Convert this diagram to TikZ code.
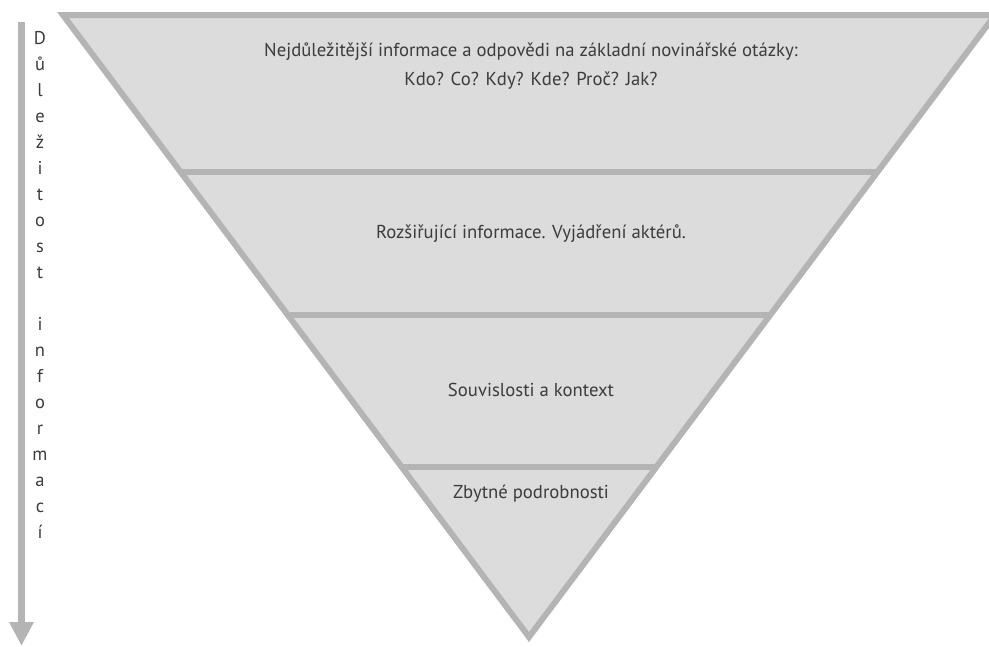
\documentclass[tikz,border=0pt]{standalone}
\usepackage{fontspec}
\setmainfont{PT Sans}
\usepackage{xcolor}
\usepackage{tikz}
\usetikzlibrary{arrows.meta, calc}
\definecolor{pyrfill}{RGB}{220,220,220}
\definecolor{pyrline}{RGB}{180,180,180}
\definecolor{pyrtext}{RGB}{60,60,60}
\tikzset{
  band/.style={draw=pyrline, line width=6pt, line join=miter},
  txt/.style={text=pyrtext, font=\fontsize{18.7}{29}\selectfont, align=center,
              inner sep=0pt, anchor=base},
  ltr/.style={text=pyrtext, font=\fontsize{18.5}{20}\selectfont, inner sep=0pt,
              anchor=base},
  arc/.style={draw=pyrline, line width=7pt, -{Triangle[width=23pt, length=24pt]}}
}

\begin{document}
\begin{tikzpicture}[x=1pt, y=-1pt]
  \useasboundingbox (0,0) rectangle (989,646);
  \clip (0,0) rectangle (989,646);
  % inverted pyramid
  \coordinate (tl) at (63,15);
  \coordinate (tr) at (995,15);
  \coordinate (ap) at (529,637);
  \fill[pyrfill] (tl) -- (tr) -- (ap) -- cycle;
  \foreach \t in {0.2524,0.4823,0.7267}
    \draw[draw=pyrline, line width=6pt] ($(tl)!\t!(ap)$) -- ($(tr)!\t!(ap)$);
  \draw[band] (tl) -- (tr) -- (ap) -- cycle;
  % levels
  \node[txt] (n1) at (531,85) {Nejdůležitější informace a odpovědi na základní novinářské otázky:\\Kdo? Co? Kdy? Kde? Proč? Jak?};
  \node[txt] (n2) at (531,238) {Rozšiřující informace. Vyjádření aktérů.};
  \node[txt] (n3) at (531,396) {Souvislosti a kontext};
  \node[txt] (n4) at (531,498) {Zbytné podrobnosti};
  % importance axis
  \coordinate (atop) at (21.5,22);
  \coordinate (abot) at (21.5,646);
  \draw[arc] (atop) -- (abot);
  \foreach \c/\k in {D/0,ů/1,l/2,e/3,ž/4,i/5,t/6,o/7,s/8,t/9,
                     i/11,n/12,f/13,o/14,r/15,m/16,a/17,c/18,í/19}
    \node[ltr] (l\k) at (40,44+\k*26) {\c};
\end{tikzpicture}
\end{document}
